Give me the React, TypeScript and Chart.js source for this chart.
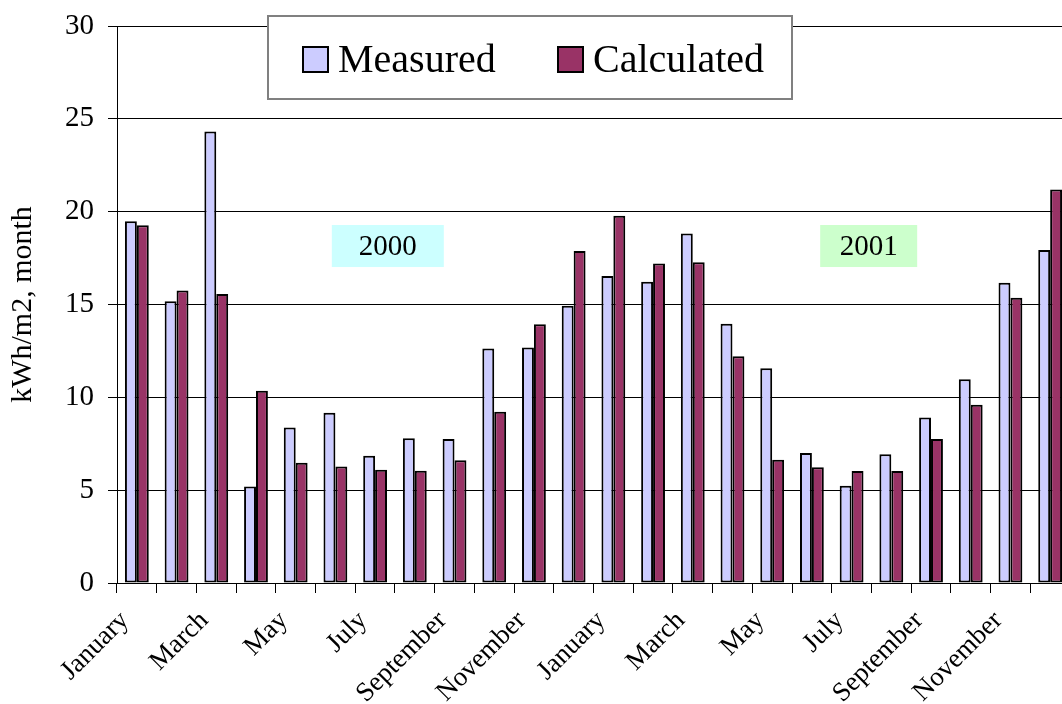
import React, { useEffect, useRef } from 'react';
import { Chart, registerables } from 'chart.js';

Chart.register(...registerables);

const categories = [
  'January', 'February', 'March', 'April', 'May', 'June',
  'July', 'August', 'September', 'October', 'November', 'December',
  'January', 'February', 'March', 'April', 'May', 'June',
  'July', 'August', 'September', 'October', 'November', 'December',
];

const measured = [
  19.48, 15.18, 24.32, 5.2, 8.38, 9.17, 6.85, 7.8, 7.76, 12.63, 12.68, 14.93,
  16.53, 16.22, 18.83, 13.96, 11.57, 7.0, 5.24, 6.93, 8.92, 10.97, 16.17, 17.93,
];

const calculated = [
  19.27, 15.76, 15.57, 10.36, 6.47, 6.27, 6.1, 6.05, 6.61, 9.22, 13.94, 17.88,
  19.78, 17.21, 17.27, 12.21, 6.64, 6.23, 6.03, 6.03, 7.75, 9.6, 15.36, 21.19,
];

const seriesNames = ['Measured', 'Calculated'];
const yearNames = ['2000', '2001'];
const yAxisTitle = 'kWh/m2, month';
const yMin = 0;
const yMax = 30;
const yStep = 5;

const FONT = "'Liberation Serif', 'Times New Roman', serif";

const boxLegend = {
  id: 'boxLegend',
  afterDraw(chart: any, _args: any, opts: any) {
    const { ctx, chartArea } = chart;
    const left = chartArea.left + opts.dx;
    const top = chartArea.top + opts.dy;
    ctx.save();
    ctx.fillStyle = '#ffffff';
    ctx.fillRect(left, top, opts.width, opts.height);
    ctx.strokeStyle = '#808080';
    ctx.lineWidth = 2;
    ctx.strokeRect(left, top, opts.width, opts.height);
    ctx.font = `40px ${FONT}`;
    ctx.textBaseline = 'alphabetic';
    ctx.textAlign = 'left';
    chart.data.datasets.forEach((ds: any, i: number) => {
      const sx = left + opts.itemX[i];
      const sy = top + opts.squareY;
      ctx.fillStyle = ds.backgroundColor;
      ctx.fillRect(sx, sy, opts.square, opts.square);
      ctx.strokeStyle = '#000000';
      ctx.lineWidth = 2;
      ctx.strokeRect(sx, sy, opts.square, opts.square);
      ctx.fillStyle = '#000000';
      ctx.fillText(ds.label, sx + opts.square + 10, sy + opts.square);
    });
    ctx.restore();
  },
};

const yearBoxes = {
  id: 'yearBoxes',
  afterDatasetsDraw(chart: any, _args: any, opts: any) {
    const { ctx, scales } = chart;
    const x = scales.x;
    const y = scales.y;
    const n = chart.data.labels.length;
    ctx.save();
    ctx.font = `29px ${FONT}`;
    ctx.textAlign = 'center';
    ctx.textBaseline = 'middle';
    opts.items.forEach((it: any) => {
      const cx = x.getPixelForDecimal((it.at + 0.5) / n);
      const cy = y.getPixelForValue(it.level);
      ctx.fillStyle = it.color;
      ctx.fillRect(cx - it.w / 2, cy - it.h / 2, it.w, it.h);
      ctx.fillStyle = '#000000';
      ctx.fillText(it.text, cx, cy + 1);
    });
    ctx.restore();
  },
};

export default function App() {
  const ref = useRef<HTMLCanvasElement | null>(null);

  useEffect(() => {
    if (!ref.current) return;
    Chart.defaults.font.family = FONT;
    Chart.defaults.color = '#000000';
    const chart = new Chart(ref.current, {
      type: 'bar',
      data: {
        labels: categories,
        datasets: [
          {
            label: seriesNames[0],
            data: measured,
            backgroundColor: '#CCCCFF',
            borderColor: '#000000',
            borderWidth: 2,
            borderSkipped: false,
            barPercentage: 1,
            categoryPercentage: 0.6,
          },
          {
            label: seriesNames[1],
            data: calculated,
            backgroundColor: '#993366',
            borderColor: '#000000',
            borderWidth: 2,
            borderSkipped: false,
            barPercentage: 1,
            categoryPercentage: 0.6,
          },
        ],
      },
      options: {
        responsive: false,
        animation: false,
        layout: { padding: { top: 26, left: 0, right: 0, bottom: 0 } },
        plugins: {
          legend: { display: false },
          tooltip: { enabled: false },
          boxLegend: {
            dx: 151,
            dy: -10,
            width: 524,
            height: 83,
            square: 25,
            squareY: 31,
            itemX: [35, 290],
          },
          yearBoxes: {
            items: [
              { text: yearNames[0], at: 6.32, level: 18.15, w: 112, h: 42, color: '#CCFFFF' },
              { text: yearNames[1], at: 18.43, level: 18.15, w: 97, h: 42, color: '#CCFFCC' },
            ],
          },
        } as any,
        scales: {
          x: {
            offset: true,
            grid: {
              display: true,
              drawOnChartArea: false,
              drawTicks: true,
              tickLength: 10,
              offset: true,
              color: '#000000',
              lineWidth: 1,
            },
            border: { display: true, color: '#000000', width: 1 },
            ticks: {
              autoSkip: false,
              maxRotation: 45,
              minRotation: 45,
              padding: 12,
              labelOffset: -12,
              font: { size: 27, family: FONT },
              color: '#000000',
              callback: (_v: any, i: number) => (i % 2 === 0 ? categories[i] : ''),
            },
            afterFit: (s: any) => {
              s.height = 121;
              s.paddingLeft = 0;
              s.paddingRight = 0;
            },
          },
          y: {
            min: yMin,
            max: yMax,
            grid: {
              color: '#000000',
              lineWidth: 1,
              drawTicks: true,
              tickLength: 9,
            },
            border: { display: true, color: '#000000', width: 1 },
            ticks: {
              stepSize: yStep,
              padding: 14,
              font: { size: 29, family: FONT },
              color: '#000000',
            },
            title: {
              display: true,
              text: yAxisTitle,
              font: { size: 30, family: FONT },
              color: '#000000',
              padding: { top: 5, bottom: 0 },
            },
            afterFit: (s: any) => {
              s.width = 117;
              s.paddingTop = 0;
              s.paddingBottom = 0;
            },
          },
        },
      } as any,
      plugins: [boxLegend, yearBoxes],
    });
    return () => chart.destroy();
  }, []);

  return (
    <div
      style={{
        position: 'fixed',
        left: 0,
        top: 0,
        width: 1062,
        height: 704,
        overflow: 'hidden',
        background: '#ffffff',
      }}
    >
      <canvas ref={ref} width={1070} height={704} style={{ display: 'block' }} />
    </div>
  );
}
